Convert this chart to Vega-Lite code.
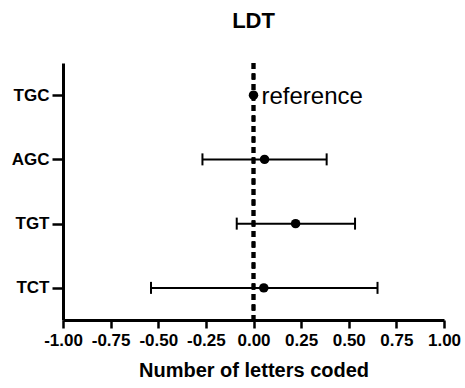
{
  "$schema": "https://vega.github.io/schema/vega-lite/v6.json",
  "width": 381,
  "height": 257,
  "autosize": {"type": "none"},
  "padding": {"left": 63, "top": 63, "right": 21, "bottom": 68},
  "background": "white",
  "config": {
    "font": "Liberation Sans",
    "view": {"stroke": null},
    "axis": {"grid": false, "domainColor": "black", "tickColor": "black", "labelColor": "black", "titleColor": "black"}
  },
  "title": {"text": "LDT", "fontSize": 22, "fontWeight": "bold", "font": "Liberation Sans", "color": "black", "offset": 28, "anchor": "middle"},
  "data": {
    "values": [
      {"group": "TGC", "mean": 0.0, "lo": null, "hi": null},
      {"group": "AGC", "mean": 0.058, "lo": -0.268, "hi": 0.384},
      {"group": "TGT", "mean": 0.221, "lo": -0.088, "hi": 0.533},
      {"group": "TCT", "mean": 0.054, "lo": -0.538, "hi": 0.651}
    ]
  },
  "encoding": {
    "y": {
      "field": "group", "type": "nominal",
      "sort": ["TGC", "AGC", "TGT", "TCT"],
      "scale": {"type": "point", "padding": 0.5},
      "axis": {"title": null, "labelFontSize": 17, "labelFontWeight": "bold", "domainWidth": 3, "tickWidth": 2.5, "tickSize": 11, "labelPadding": 3}
    }
  },
  "layer": [
    {
      "mark": {"type": "rule", "color": "black", "strokeWidth": 3.5, "strokeDash": [6, 4.5]},
      "encoding": {"x": {"datum": 0, "type": "quantitative"}, "y": null}
    },
    {
      "transform": [{"filter": "datum.lo != null"}],
      "mark": {"type": "rule", "color": "black", "strokeWidth": 2},
      "encoding": {
        "x": {"field": "lo", "type": "quantitative"},
        "x2": {"field": "hi"}
      }
    },
    {
      "transform": [{"filter": "datum.lo != null"}],
      "mark": {"type": "tick", "color": "black", "thickness": 2, "size": 12, "opacity": 1},
      "encoding": {"x": {"field": "lo", "type": "quantitative"}}
    },
    {
      "transform": [{"filter": "datum.lo != null"}],
      "mark": {"type": "tick", "color": "black", "thickness": 2, "size": 12, "opacity": 1},
      "encoding": {"x": {"field": "hi", "type": "quantitative"}}
    },
    {
      "mark": {"type": "point", "filled": true, "color": "black", "size": 90, "opacity": 1},
      "encoding": {
        "x": {
          "field": "mean", "type": "quantitative",
          "scale": {"domain": [-1, 1], "nice": false, "zero": false},
          "axis": {
            "title": "Number of letters coded", "titleFontSize": 20, "titleFontWeight": "bold", "titlePadding": 12,
            "values": [-1, -0.75, -0.5, -0.25, 0, 0.25, 0.5, 0.75, 1],
            "labelExpr": "replace(format(datum.value, '.2f'), '\u2212', '-')",
            "labelFontSize": 17, "labelFontWeight": "bold", "labelPadding": 4,
            "domainWidth": 3, "tickWidth": 2.5, "tickSize": 8, "labelFlush": false, "labelOverlap": false
          }
        }
      }
    },
    {
      "transform": [{"filter": "datum.group == 'TGC'"}],
      "mark": {"type": "text", "align": "left", "baseline": "middle", "dx": 8, "dy": 2, "fontSize": 24, "color": "black"},
      "encoding": {
        "x": {"field": "mean", "type": "quantitative"},
        "text": {"value": "reference"}
      }
    }
  ]
}
